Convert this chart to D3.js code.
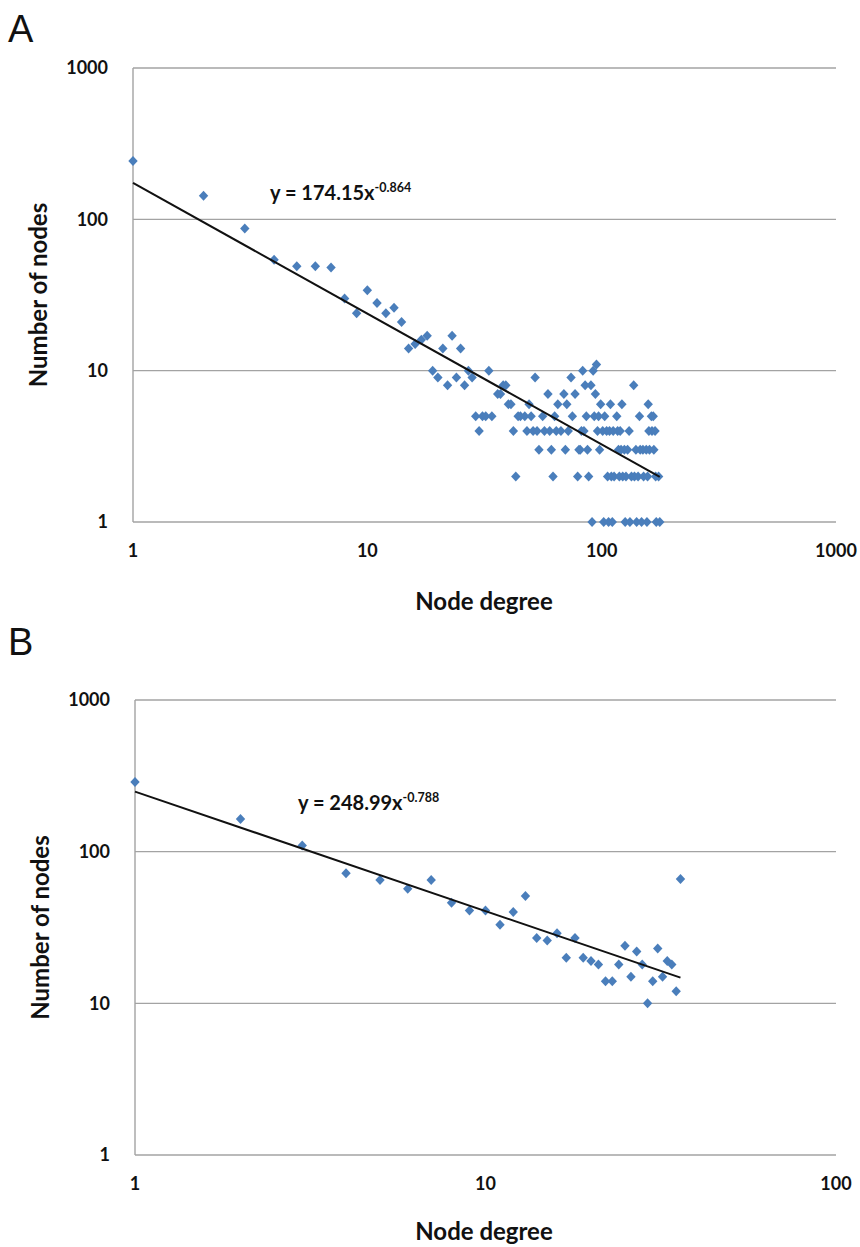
<!DOCTYPE html>
<html>
<head>
<meta charset="utf-8">
<script src="https://cdn.jsdelivr.net/npm/d3@7"></script>
<style>
  html, body { margin: 0; padding: 0; background: #fff; }
  svg { display: block; }
</style>
</head>
<body>
<svg id="chart" width="860" height="1247"></svg>
<script>
// ---------- Panel A data ----------
const degreeA = [1,2,3,4,5,6,7,8,9,10,11,12,13,14,15,16,17,18,19,20,21,22,23,24,25,26,27,28,29,30,31,32,33,34,36,37,38,39,40,41,42,43,44,45,47,48,49,50,51,52,53,54,56,57,59,60,61,62,63,64,65,67,69,70,71,72,74,75,77,79,80,81,82,83,84,85,86,87,88,90,91,92,93,94,95,96,97,98,99,101,102,103,105,106,107,108,109,110,111,112,113,116,117,118,119,120,121,122,123,125,126,127,129,131,132,134,137,138,140,141,143,145,146,148,150,151,155,156,157,158,159,160,163,164,166,167,169,170,171,175,177];
const countA  = [243,143,87,54,49,49,48,30,24,34,28,24,26,21,14,15,16,17,10,9,14,8,17,9,14,8,10,9,5,4,5,5,10,5,7,7,8,8,6,6,4,2,5,5,5,4,6,5,4,9,4,3,5,4,7,4,3,2,5,4,6,4,7,3,6,4,9,5,7,2,3,3,4,10,4,8,5,3,2,8,1,10,5,7,11,4,5,3,6,4,1,5,4,2,1,4,6,2,1,4,2,5,4,3,2,4,3,6,2,3,1,2,3,4,1,2,8,2,3,1,2,5,3,1,3,2,3,1,2,6,4,3,5,4,5,3,4,2,1,2,1];
const xTicksA = [1,10,100,1000];
const fitA = { coef: 174.15, exp: -0.864, label: "y = 174.15x", sup: "-0.864" };

// ---------- Panel B data ----------
const degreeB = [1,2,3,4,5,6,7,8,9,10,11,12,13,14,15,16,17,18,19,20,21,22,23,24,25,26,27,28,29,30,31,32,33,34,35,36];
const countB  = [288,164,110,72,65,57,65,46,41,41,33,40,51,27,26,29,20,27,20,19,18,14,14,18,24,15,22,18,10,14,23,15,19,18,12,66];
const xTicksB = [1,10,100];
const fitB = { coef: 248.99, exp: -0.788, label: "y = 248.99x", sup: "-0.788" };

const yTicks = [1,10,100,1000];
const panelLabels = ["A","B"];
const xTitle = "Node degree";
const yTitle = "Number of nodes";

// ---------- drawing ----------
const svg = d3.select("#chart");
const FONT = "Lato, 'Open Sans', sans-serif";
const MARK = "#4a7ebb";
const GRID = "#a3a3a3";

function panel(opts) {
  const g = svg.append("g");
  const x = d3.scaleLog().domain(opts.xDomain).range([opts.left, opts.right]);
  const y = d3.scaleLog().domain([1, 1000]).range([opts.bottom, opts.top]);

  // panel letter
  g.append("text").attr("x", 8).attr("y", opts.letterY)
    .attr("font-family", "'Liberation Sans', Arial, sans-serif")
    .attr("font-size", 38).attr("fill", "#111").text(opts.letter);

  // horizontal gridlines
  g.selectAll(".grid").data(yTicks).enter().append("line")
    .attr("x1", opts.left).attr("x2", opts.right)
    .attr("y1", d => y(d)).attr("y2", d => y(d))
    .attr("stroke", GRID).attr("stroke-width", 1.4);
  // left axis line
  g.append("line").attr("x1", opts.left).attr("x2", opts.left)
    .attr("y1", y(1000)).attr("y2", y(1))
    .attr("stroke", GRID).attr("stroke-width", 1.4);

  // y tick labels
  g.selectAll(".yt").data(yTicks).enter().append("text")
    .attr("x", opts.left - 25).attr("y", d => y(d)).attr("dy", "0.36em")
    .attr("text-anchor", "end").attr("font-family", FONT)
    .attr("font-weight", 700).attr("font-size", 18).attr("fill", "#111")
    .text(d => d3.format("d")(d));

  // x tick labels
  g.selectAll(".xt").data(opts.xTicks).enter().append("text")
    .attr("x", d => x(d)).attr("y", opts.bottom + 35)
    .attr("text-anchor", "middle").attr("font-family", FONT)
    .attr("font-weight", 700).attr("font-size", 18).attr("fill", "#111")
    .text(d => d3.format("d")(d));

  // axis titles
  g.append("text").attr("x", opts.xTitleX).attr("y", opts.bottom + opts.xTitleDy)
    .attr("text-anchor", "middle").attr("font-family", FONT)
    .attr("font-weight", 700).attr("font-size", 24).attr("fill", "#111").text(xTitle);
  g.append("text")
    .attr("transform", `translate(${opts.yTitleX},${(opts.top + opts.bottom) / 2}) rotate(-90)`)
    .attr("text-anchor", "middle").attr("font-family", FONT)
    .attr("font-weight", 700).attr("font-size", 24).attr("fill", "#111").text(yTitle);

  // points
  const pts = opts.deg.map((d, i) => ({ d, c: opts.cnt[i] }));
  g.selectAll(".pt").data(pts).enter().append("path")
    .attr("d", "M0,-5L4.7,0L0,5L-4.7,0Z")
    .attr("transform", p => `translate(${x(p.d)},${y(p.c)})`)
    .attr("fill", MARK);

  // power-law trend line (straight in log-log)
  const xs = d3.extent(opts.deg);
  const line = d3.line().x(v => x(v)).y(v => y(opts.fit.coef * Math.pow(v, opts.fit.exp)));
  g.append("path").datum(xs).attr("d", line)
    .attr("fill", "none").attr("stroke", "#111").attr("stroke-width", 2);

  // equation label
  const t = g.append("text").attr("x", opts.eqX).attr("y", opts.eqY)
    .attr("font-family", FONT).attr("font-weight", 700).attr("fill", "#111");
  t.append("tspan").attr("font-size", 20).text(opts.fit.label);
  t.append("tspan").attr("font-size", 12.5).attr("dy", -8).text(opts.fit.sup);
}

panel({
  letter: panelLabels[0], letterY: 42,
  left: 133, right: 836, top: 68, bottom: 522,
  xDomain: [1, 1000], xTicks: xTicksA,
  deg: degreeA, cnt: countA, fit: fitA,
  eqX: 270, eqY: 200, yTitleX: 47, xTitleX: 484, xTitleDy: 88
});

panel({
  letter: panelLabels[1], letterY: 655,
  left: 135, right: 836, top: 700, bottom: 1155,
  xDomain: [1, 100], xTicks: xTicksB,
  deg: degreeB, cnt: countB, fit: fitB,
  eqX: 298, eqY: 810, yTitleX: 49, xTitleX: 484, xTitleDy: 85
});
</script>
</body>
</html>
